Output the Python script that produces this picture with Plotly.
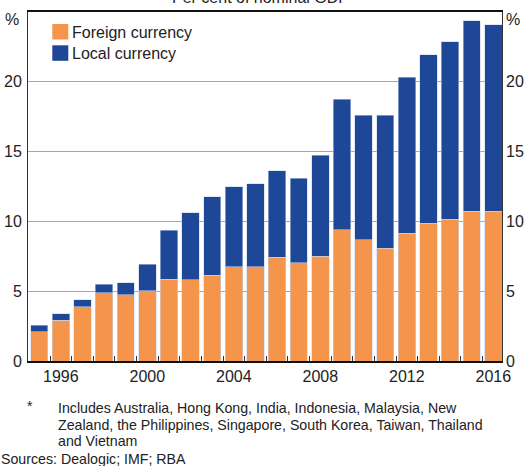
import plotly.graph_objects as go

# Asian* corporate bond issuance outstanding, per cent of nominal GDP
years = list(range(1995, 2017))
foreign_currency = [2.11, 2.93, 3.88, 4.88, 4.74, 5.02, 5.86, 5.83, 6.14, 6.76, 6.76,
                    7.43, 7.05, 7.50, 9.40, 8.69, 8.09, 9.16, 9.88, 10.14, 10.74, 10.71]
local_currency = [0.46, 0.47, 0.50, 0.62, 0.88, 1.91, 3.52, 4.79, 5.62, 5.74, 5.95,
                  6.19, 6.04, 7.24, 9.34, 8.93, 9.50, 11.17, 12.05, 12.72, 13.64, 13.36]
series_names = ["Foreign currency", "Local currency"]
y_ticks = [0, 5, 10, 15, 20]
x_ticks = [1996, 2000, 2004, 2008, 2012, 2016]

ORANGE = "#F5944B"
BLUE = "#1E4797"
FONT = "Liberation Sans, Arial, sans-serif"
TXT = "#222222"

W, H = 525, 466
L, R, T, B = 28, 23, 12, 105
PW, PH = W - L - R, H - T - B


def px_x(x):
    return (x - L) / PW


def px_y(y):
    return (H - B - y) / PH


fig = go.Figure()
for name, vals, col in [(series_names[0], foreign_currency, ORANGE),
                        (series_names[1], local_currency, BLUE)]:
    fig.add_trace(go.Bar(
        x=years, y=vals, name=name,
        marker=dict(color=col, line=dict(color="rgba(200,212,236,0.9)", width=0.6)),
        showlegend=False,
    ))

fig.update_layout(
    width=W, height=H,
    margin=dict(l=L, r=R, t=T, b=B, pad=0, autoexpand=False),
    barmode="stack", bargap=0.2,
    plot_bgcolor="white", paper_bgcolor="white",
    font=dict(family=FONT, size=16, color=TXT),
    xaxis=dict(
        range=[1994.48, 2016.4], automargin=False,
        tickmode="array", tickvals=x_ticks, ticktext=[str(v) for v in x_ticks],
        ticks="", showgrid=False, zeroline=False,
        showline=True, linecolor="#111111", linewidth=1.5, mirror=True,
        minor=dict(tickmode="array", tickvals=[y + 0.5 for y in years[:-1]],
                   ticks="inside", ticklen=5, tickwidth=1, tickcolor="#333333",
                   showgrid=False),
        tickfont=dict(size=16, color=TXT),
    ),
    yaxis=dict(
        range=[0, 25], tickmode="array", tickvals=y_ticks, automargin=False,
        ticks="", showgrid=True, gridcolor="#A6A6A6", gridwidth=1,
        zeroline=False, showline=True, linecolor="#333333", linewidth=1, mirror=True,
        tickfont=dict(size=16, color=TXT), ticklabelstandoff=2,
    ),
    yaxis2=dict(
        range=[0, 25], tickmode="array", tickvals=y_ticks, automargin=False,
        overlaying="y", side="right", showgrid=False, zeroline=False,
        ticks="", showline=False,
        tickfont=dict(size=16, color=TXT), ticklabelstandoff=3,
    ),
)

# invisible helper trace so the right-hand axis is drawn
fig.add_trace(go.Scatter(x=[years[0]], y=[0], yaxis="y2", mode="markers",
                         marker=dict(opacity=0), showlegend=False, hoverinfo="skip"))

annotations = [
    dict(text="Per cent of nominal GDP", x=0.49, y=px_y(8.5), xref="paper", yref="paper",
         xanchor="center", yanchor="bottom", showarrow=False, font=dict(size=16)),
    dict(text="%", x=px_x(12), y=px_y(20), xref="paper", yref="paper",
         xanchor="center", yanchor="middle", showarrow=False, font=dict(size=16)),
    dict(text="%", x=px_x(513), y=px_y(20), xref="paper", yref="paper",
         xanchor="center", yanchor="middle", showarrow=False, font=dict(size=16)),
]

# legend swatches and labels
shapes = []
for i, (name, col) in enumerate(zip(series_names, [ORANGE, BLUE])):
    top = 24 + i * 21.3
    shapes.append(dict(type="rect", xref="paper", yref="paper",
                       x0=px_x(52.3), x1=px_x(68.3), y0=px_y(top + 15.5), y1=px_y(top),
                       fillcolor=col, line=dict(width=0)))
    annotations.append(dict(text=name, x=px_x(69.5), y=px_y(top + 8), xref="paper",
                            yref="paper", xanchor="left", yanchor="middle",
                            showarrow=False, font=dict(size=16)))

# footnotes
note_lines = [
    "Includes Australia, Hong Kong, India, Indonesia, Malaysia, New",
    "Zealand, the Philippines, Singapore, South Korea, Taiwan, Thailand",
    "and Vietnam",
]
annotations.append(dict(text="*", x=px_x(30), y=px_y(406), xref="paper", yref="paper",
                        xanchor="center", yanchor="middle", showarrow=False,
                        font=dict(size=14)))
for i, line in enumerate(note_lines):
    annotations.append(dict(text=line, x=px_x(56), y=px_y(408 + i * 16.5), xref="paper",
                            yref="paper", xanchor="left", yanchor="middle",
                            showarrow=False, font=dict(size=14.2)))
annotations.append(dict(text="Sources: Dealogic; IMF; RBA", x=px_x(-1), y=px_y(458.5),
                        xref="paper", yref="paper", xanchor="left", yanchor="middle",
                        showarrow=False, font=dict(size=14.2)))

fig.update_layout(annotations=annotations, shapes=shapes)
fig.write_html("out.html")
